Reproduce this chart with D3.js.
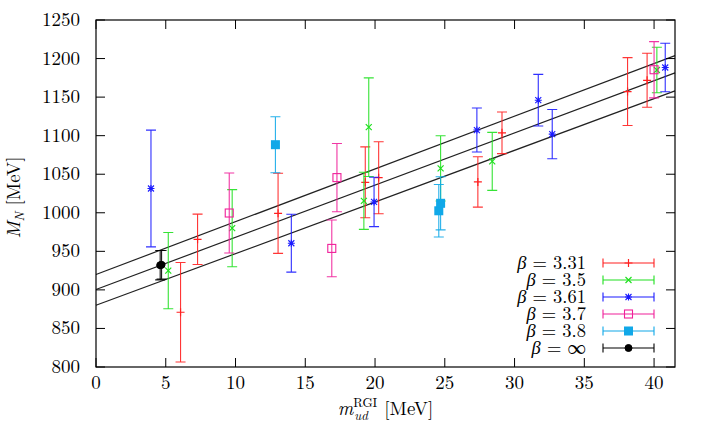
<!DOCTYPE html>
<html><head><meta charset="utf-8">
<script src="https://cdn.jsdelivr.net/npm/d3@7"></script>
<style>
html,body{margin:0;padding:0;background:#fff;}
</style></head>
<body>
<svg id="chart" width="705" height="427"></svg>
<script>
// ---- data ----
const xTicks = [0,5,10,15,20,25,30,35,40];
const yTicks = [800,850,900,950,1000,1050,1100,1150,1200,1250];

const labels = ["3.31","3.5","3.61","3.7","3.8","\u221E"];

const x331 = [6.06, 7.28, 13.05, 19.3, 20.26, 27.37, 29.1, 38.1, 39.5];
const y331 = [871, 965.6, 999.3, 1039.5, 1045.5, 1040, 1103.7, 1157.2, 1171.8];
const e331 = [64.5, 32.7, 52, 46, 46.7, 32.7, 27, 44, 35];

const x35 = [5.18, 9.76, 19.2, 19.55, 24.7, 28.4, 40.2];
const y35 = [925, 980, 1015.5, 1111, 1057.6, 1066.7, 1185.2];
const e35 = [49.5, 50, 37, 64, 42.3, 37.6, 29.5];

const x361 = [3.94, 14.0, 19.93, 27.3, 31.7, 32.7, 40.8];
const y361 = [1031.5, 960.5, 1014, 1107.3, 1146, 1102, 1188.4];
const e361 = [75.7, 37.5, 32, 28.5, 33.5, 32, 31.4];

const x37 = [9.55, 16.9, 17.27, 40.0];
const y37 = [999.7, 953.8, 1045.6, 1185.5];
const e37 = [51.9, 36.8, 44.2, 36.5];

const x38 = [12.86, 24.57, 24.7];
const y38 = [1088.3, 1002.6, 1012.3];
const e38 = [36.3, 34, 34.5];

const xInf = [4.6, 4.7];
const yInf = [932, 932.5];
const eInf = [19, 18.5];

// fit: central line and error band (intercept, slope)
const fitIntercept = [920, 900.5, 880];
const fitSlope = [6.84, 6.77, 6.70];

// ---- layout ----
const FONT = "'Latin Modern Roman','Liberation Serif',serif";
const L = 96, R = 675, T = 20, B = 367;
const xMax = 41.5;

const svg = d3.select("#chart");
const x = d3.scaleLinear().domain([0, xMax]).range([L, R]);
const y = d3.scaleLinear().domain([800, 1250]).range([B, T]);

const colors = ["#ff2020", "#20e020", "#1a1aff", "#f0209a", "#10a8e8", "#000000"];
const markers = ["plus", "cross", "star", "osq", "fsq", "circ"];
const series = [
  {x: x331, y: y331, e: e331},
  {x: x35, y: y35, e: e35},
  {x: x361, y: y361, e: e361},
  {x: x37, y: y37, e: e37},
  {x: x38, y: y38, e: e38},
  {x: xInf, y: yInf, e: eInf}
];

function drawMarker(g, type, cx, cy, col) {
  if (type === "plus") {
    g.append("path").attr("d", `M${cx-4},${cy}H${cx+4}M${cx},${cy-4}V${cy+4}`)
      .attr("stroke", col).attr("stroke-width", 1.2).attr("fill", "none");
  } else if (type === "cross") {
    g.append("path").attr("d", `M${cx-3},${cy-3}L${cx+3},${cy+3}M${cx-3},${cy+3}L${cx+3},${cy-3}`)
      .attr("stroke", col).attr("stroke-width", 1.2).attr("fill", "none");
  } else if (type === "star") {
    g.append("path").attr("d", `M${cx-3.5},${cy}H${cx+3.5}M${cx},${cy-3.5}V${cy+3.5}M${cx-3},${cy-3}L${cx+3},${cy+3}M${cx-3},${cy+3}L${cx+3},${cy-3}`)
      .attr("stroke", col).attr("stroke-width", 1.1).attr("fill", "none");
  } else if (type === "osq") {
    g.append("rect").attr("x", cx-4).attr("y", cy-4).attr("width", 8).attr("height", 8)
      .attr("stroke", col).attr("stroke-width", 1.1).attr("fill", "none");
  } else if (type === "fsq") {
    g.append("rect").attr("x", cx-4.5).attr("y", cy-4.5).attr("width", 9).attr("height", 9)
      .attr("fill", col);
  } else if (type === "circ") {
    g.append("circle").attr("cx", cx).attr("cy", cy).attr("r", 3.5).attr("fill", col)
      .attr("stroke", col).attr("stroke-width", 1);
  }
}

// ---- fit lines ----
const gFit = svg.append("g");
fitIntercept.forEach((a, i) => {
  const b = fitSlope[i];
  gFit.append("line")
    .attr("x1", x(0)).attr("y1", y(a))
    .attr("x2", x(xMax)).attr("y2", y(a + b * xMax))
    .attr("stroke", "#222").attr("stroke-width", 1.2);
});

// ---- data series ----
series.forEach((s, si) => {
  const g = svg.append("g");
  const col = colors[si];
  s.x.forEach((xv, i) => {
    const cx = x(xv), yt = y(s.y[i] + s.e[i]), yb = y(s.y[i] - s.e[i]);
    g.append("path")
      .attr("d", `M${cx},${yt}V${yb}M${cx-5},${yt}H${cx+5}M${cx-5},${yb}H${cx+5}`)
      .attr("stroke", col).attr("stroke-width", 1.1).attr("fill", "none")
      .attr("opacity", 0.9);
    drawMarker(g, markers[si], cx, y(s.y[i]), col);
  });
});

// ---- frame and ticks ----
const gAx = svg.append("g");
const tickLen = 9;
xTicks.forEach(t => {
  const px = x(t);
  gAx.append("line").attr("x1", px).attr("x2", px).attr("y1", B).attr("y2", B - tickLen).attr("stroke", "#000");
  gAx.append("line").attr("x1", px).attr("x2", px).attr("y1", T).attr("y2", T + tickLen).attr("stroke", "#000");
  gAx.append("text").attr("x", px).attr("y", 389).attr("text-anchor", "middle")
    .style("font-family", FONT).attr("font-size", 19).text(t);
});
yTicks.forEach(t => {
  const py = y(t);
  gAx.append("line").attr("x1", L).attr("x2", L + tickLen).attr("y1", py).attr("y2", py).attr("stroke", "#000");
  gAx.append("line").attr("x1", R).attr("x2", R - tickLen).attr("y1", py).attr("y2", py).attr("stroke", "#000");
  gAx.append("text").attr("x", 80).attr("y", py + 6).attr("text-anchor", "end")
    .style("font-family", FONT).attr("font-size", 19).text(t);
});
gAx.append("rect").attr("x", L).attr("y", T).attr("width", R - L).attr("height", B - T)
  .attr("fill", "none").attr("stroke", "#000").attr("stroke-width", 1.2);

// ---- axis titles ----
const yl = svg.append("text").attr("transform", `translate(20,${(T+B)/2 + 4}) rotate(-90)`)
  .attr("text-anchor", "middle").style("font-family", FONT).attr("font-size", 19);
yl.append("tspan").style("font-style", "italic").text("M");
yl.append("tspan").style("font-style", "italic").attr("font-size", 13).attr("dy", 4).text("N");
yl.append("tspan").attr("dy", -4).text(" [MeV]");

const xl = svg.append("text").attr("x", (L + R) / 2).attr("y", 415)
  .attr("text-anchor", "middle").style("font-family", FONT).attr("font-size", 19);
xl.append("tspan").style("font-style", "italic").text("m");
xl.append("tspan").attr("font-size", 13).attr("dy", -8).text("RGI");
xl.append("tspan").style("font-style", "italic").attr("font-size", 13).attr("dx", -23).attr("dy", 13).text("ud");
xl.append("tspan").attr("dx", 10).attr("dy", -5).text(" [MeV]");

// ---- legend ----
const gLeg = svg.append("g");
labels.forEach((lab, i) => {
  const ly = 263 + i * 17;
  const t = gLeg.append("text").attr("x", 586).attr("y", ly + 6).attr("text-anchor", "end")
    .style("font-family", FONT).attr("font-size", 18.5);
  t.append("tspan").style("font-style", "italic").text("\u03B2");
  t.append("tspan").text(" = " + lab);
  const col = colors[i];
  gLeg.append("path")
    .attr("d", `M603,${ly}H654M603,${ly-4.5}V${ly+4.5}M654,${ly-4.5}V${ly+4.5}`)
    .attr("stroke", col).attr("stroke-width", 1.1).attr("fill", "none");
  drawMarker(gLeg, markers[i], 628.5, ly, col);
});
</script>
</body></html>
